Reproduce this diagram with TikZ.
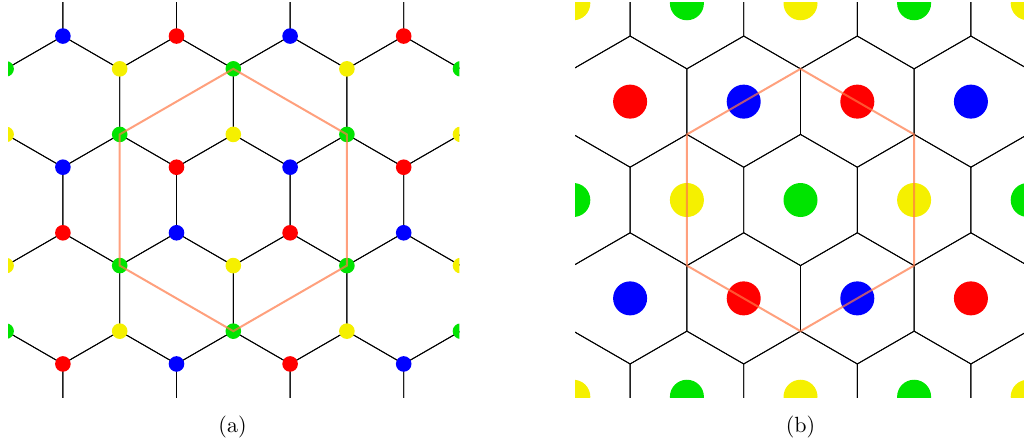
\documentclass[tikz,border=0pt]{standalone}
\usetikzlibrary{calc}
\definecolor{dotgreen}{RGB}{0,228,0}
\definecolor{dotyellow}{RGB}{245,240,0}
\definecolor{dotred}{RGB}{255,0,0}
\definecolor{dotblue}{RGB}{0,0,255}
\definecolor{hexorange}{RGB}{255,120,70}
\begin{document}
\begin{tikzpicture}[x=1pt,y=-1pt,
  edge/.style={line width=0.9pt,draw=black},
  outline/.style={line width=2pt,draw=hexorange,draw opacity=0.7,line join=miter},
  caption/.style={font=\normalsize,scale=2.2,anchor=base,inner sep=0pt}]
\useasboundingbox (0,0) rectangle (1024,444);
\def\A{56.8}\def\E{32.79}
% ---------- panel (a) ----------
\begin{scope}
  \clip (8,3) rectangle (459.3,397);
  \def\cx{233.3}\def\cy{200}
  \foreach \j in {-3,...,3}{
    \foreach \i in {-4,...,4}{
      \pgfmathsetmacro\px{\cx+(2*\i+mod(abs(\j),2))*\A}
      \pgfmathsetmacro\py{\cy+3*\j*\E}
      \draw[edge,shift={(\px,\py)}] (0,-2*\E) -- (\A,-\E) -- (\A,\E) -- (0,2*\E) -- (-\A,\E) -- (-\A,-\E) -- cycle;
    }
  }
  \foreach \X/\Y/\c in {
    -3/-5/dotblue, -1/-5/dotred, 1/-5/dotblue, 3/-5/dotred,
    -4/-4/dotgreen, -2/-4/dotyellow, 0/-4/dotgreen, 2/-4/dotyellow, 4/-4/dotgreen,
    -4/-2/dotyellow, -2/-2/dotgreen, 0/-2/dotyellow, 2/-2/dotgreen, 4/-2/dotyellow,
    -3/-1/dotblue, -1/-1/dotred, 1/-1/dotblue, 3/-1/dotred,
    -3/1/dotred, -1/1/dotblue, 1/1/dotred, 3/1/dotblue,
    -4/2/dotyellow, -2/2/dotgreen, 0/2/dotyellow, 2/2/dotgreen, 4/2/dotyellow,
    -4/4/dotgreen, -2/4/dotyellow, 0/4/dotgreen, 2/4/dotyellow, 4/4/dotgreen,
    -3/5/dotred, -1/5/dotblue, 1/5/dotred, 3/5/dotblue}{
    \pgfmathsetmacro\qx{\cx+\X*\A}
    \pgfmathsetmacro\qy{\cy+\Y*\E}
    \fill[\c] (\qx,\qy) circle (7.8);
  }
  \draw[outline] (\cx,\cy-4*\E) -- (\cx+2*\A,\cy-2*\E) -- (\cx+2*\A,\cy+2*\E)
    -- (\cx,\cy+4*\E) -- (\cx-2*\A,\cy+2*\E) -- (\cx-2*\A,\cy-2*\E) -- cycle;
\end{scope}
% ---------- panel (b) ----------
\begin{scope}
  \clip (575,3) rectangle (1024,397);
  \def\cx{800.5}\def\cy{200}
  \foreach \j in {-3,...,3}{
    \foreach \i in {-4,...,4}{
      \pgfmathsetmacro\px{\cx+(2*\i+mod(abs(\j),2))*\A}
      \pgfmathsetmacro\py{\cy+3*\j*\E}
      \draw[edge,shift={(\px,\py)}] (0,-2*\E) -- (\A,-\E) -- (\A,\E) -- (0,2*\E) -- (-\A,\E) -- (-\A,-\E) -- cycle;
    }
  }
  \foreach \X/\Y/\c in {
    -4/-6/dotyellow, -2/-6/dotgreen, 0/-6/dotyellow, 2/-6/dotgreen, 4/-6/dotyellow,
    -3/-3/dotred, -1/-3/dotblue, 1/-3/dotred, 3/-3/dotblue,
    -4/0/dotgreen, -2/0/dotyellow, 0/0/dotgreen, 2/0/dotyellow, 4/0/dotgreen,
    -3/3/dotblue, -1/3/dotred, 1/3/dotblue, 3/3/dotred,
    -4/6/dotyellow, -2/6/dotgreen, 0/6/dotyellow, 2/6/dotgreen, 4/6/dotyellow}{
    \pgfmathsetmacro\qx{\cx+\X*\A}
    \pgfmathsetmacro\qy{\cy+\Y*\E}
    \fill[\c] (\qx,\qy) circle (17);
  }
  \draw[outline] (\cx,\cy-4*\E) -- (\cx+2*\A,\cy-2*\E) -- (\cx+2*\A,\cy+2*\E)
    -- (\cx,\cy+4*\E) -- (\cx-2*\A,\cy+2*\E) -- (\cx-2*\A,\cy-2*\E) -- cycle;
\end{scope}
% ---------- captions ----------
\node[caption] (capa) at (232.5,432.5) {(a)};
\node[caption] (capb) at (800.5,432.5) {(b)};
\end{tikzpicture}
\end{document}
